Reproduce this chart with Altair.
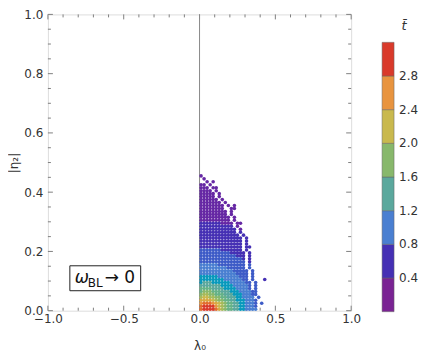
import altair as alt
import pandas as pd

# ---------------- data ----------------
# grid of the scatter cloud: each character is a t-bar level (index * 0.2), '.' = no points
# columns: lambda_0 from 0.00 to 0.46 in steps of 0.02 ; rows: |eta_2| from 0.46 down to 0.00 in steps of 0.01
level_codes = "0123456789ABCDEF"
grid_rows = [
    "2......................",  # 0.455
    ".2.....................",  # 0.445
    "..2.2..................",  # 0.435
    "22.2...................",  # 0.425
    "222.22.................",  # 0.415
    "2222.2.................",  # 0.405
    "22222.2................",  # 0.395
    "22222.2................",  # 0.385
    "222222.2...............",  # 0.375
    "2222222.2..............",  # 0.365
    "22222222.2.2...........",  # 0.355
    "22222222..22...........",  # 0.345
    "222222222.2............",  # 0.335
    "222222222.2............",  # 0.325
    "2222222222.2...........",  # 0.315
    "2222222222.2...........",  # 0.305
    "33333332222.22.........",  # 0.295
    "33333333333.2..........",  # 0.285
    "333333333333.2.........",  # 0.275
    "333333333333.3.........",  # 0.265
    "3333333333333.3........",  # 0.255
    "33333333333333.3.......",  # 0.245
    "33333333333333.3.......",  # 0.235
    "33333333333333.3.......",  # 0.225
    "33333333333333.33......",  # 0.215
    "44444443333333.3.......",  # 0.205
    "444444444433333.3......",  # 0.195
    "444444444444333.3......",  # 0.185
    "444444444444443.3......",  # 0.175
    "444444444444444.3......",  # 0.165
    "555555444444444.4......",  # 0.155
    "555555555444444.4......",  # 0.145
    "5555555555544444.4.....",  # 0.135
    "5555555555554444.4.....",  # 0.125
    "6666665555555444.4.....",  # 0.115
    "6666666655555544.4...3.",  # 0.105
    "67776666665555544.4....",  # 0.095
    "77777776666555554.4....",  # 0.085
    "88887777666655554.4....",  # 0.075
    "8999888777666555544....",  # 0.065
    "9AA9988877766655544....",  # 0.055
    "ABBAA9988777665555.4...",  # 0.045
    "CCCCBA9988776665554....",  # 0.035
    "DEEEDCBA98877665554.4..",  # 0.025
    "EFFFFDBA98877665554....",  # 0.015
    "EFFFFECA98877665555....",  # 0.005
]
grid_x0 = 0.01
grid_dx = 0.02
grid_y_top = 0.455
grid_dy = 0.01

x_labels = [-1.0, -0.5, 0.0, 0.5, 1.0]
x_minor = [-0.9, -0.8, -0.7, -0.6, -0.4, -0.3, -0.2, -0.1, 0.1, 0.2, 0.3, 0.4, 0.6, 0.7, 0.8, 0.9]
y_labels = [0.0, 0.2, 0.4, 0.6, 0.8, 1.0]
y_minor = [0.05, 0.1, 0.15, 0.25, 0.3, 0.35, 0.45, 0.5, 0.55, 0.65, 0.7, 0.75, 0.85, 0.9, 0.95]
zero_line = [0.0]

band_thresholds = [0.4, 0.8, 1.2, 1.6, 2.0, 2.4, 2.8]
band_mids = [0.2, 0.6, 1.0, 1.4, 1.8, 2.2, 2.6, 3.0]
band_colors = ["#7a2393", "#4530b4", "#4a7fd1", "#5ba89d", "#88b86c", "#c9b94e", "#e8943f", "#d93a2b"]

# ---------------- tables ----------------
recs = []
for i, row in enumerate(grid_rows):
    row = (row + "." * 23)[:23]
    for j, ch in enumerate(row):
        if ch == ".":
            continue
        recs.append({
            "v": round(grid_x0 + grid_dx * j, 4),
            "w": round(grid_y_top - grid_dy * i, 4),
            "t": round(level_codes.index(ch) * 0.2, 2),
        })
pts = pd.DataFrame(recs)

W, H = 304, 297
FONT = "DejaVu Sans"
GREY = "#808080"
TXT = "#333333"

xs = alt.Scale(domain=[-1, 1], nice=False, zero=False)
ys = alt.Scale(domain=[0, 1], nice=False, zero=False)

x_axis = alt.Axis(
    values=x_labels, format=".1f", title="λ₀", ticks=False, tickSize=0, domain=False, grid=False,
    labelFlush=False, labelPadding=3, titlePadding=16, labelFontSize=12, titleFontSize=12,
    labelColor=TXT, titleColor=TXT, labelFont=FONT, titleFont=FONT, titleFontWeight="normal")
y_axis = alt.Axis(
    values=y_labels, format=".1f", title="|η₂|", ticks=False, tickSize=0, domain=False, grid=False,
    labelFlush=False, labelPadding=5, titlePadding=3, labelFontSize=12, titleFontSize=12,
    labelColor=TXT, titleColor=TXT, labelFont=FONT, titleFont=FONT, titleFontWeight="normal")

points = alt.Chart(pts).mark_circle(size=13, opacity=1).encode(
    x=alt.X("v:Q", scale=xs, axis=x_axis),
    y=alt.Y("w:Q", scale=ys, axis=y_axis),
    color=alt.Color("t:Q", scale=alt.Scale(type="linear", domain=band_mids, range=band_colors), legend=None),
)

legend_layer = alt.Chart(pd.DataFrame({"t": band_mids})).mark_square(opacity=0).encode(
    x=alt.value(0), y=alt.value(0),
    color=alt.Color("t:Q", scale=alt.Scale(type="threshold", domain=band_thresholds, range=band_colors),
                    legend=alt.Legend(type="gradient", orient="none", legendX=335, legendY=28,
                                      direction="vertical", gradientLength=270, gradientThickness=12,
                                      title=None, format=".1f", labelFontSize=12, labelFont=FONT,
                                      labelColor=TXT, labelOffset=5, gradientStrokeColor="#666",
                                      gradientStrokeWidth=0.5)),
)

def xticks(vals, y0, y1):
    return alt.Chart(pd.DataFrame({"v": vals})).mark_rule(color=GREY, strokeWidth=1).encode(
        x=alt.X("v:Q", scale=xs, axis=x_axis), y=alt.value(y0), y2=alt.value(y1))

def yticks(vals, x0, x1):
    return alt.Chart(pd.DataFrame({"w": vals})).mark_rule(color=GREY, strokeWidth=1).encode(
        y=alt.Y("w:Q", scale=ys, axis=y_axis), x=alt.value(x0), x2=alt.value(x1))

ticks = [
    xticks(x_labels, H, H - 5), xticks(x_minor, H, H - 3),
    xticks(x_labels, 0, 5), xticks(x_minor, 0, 3),
    yticks(y_labels, 0, 5), yticks(y_minor, 0, 3),
    yticks(y_labels, W, W - 5), yticks(y_minor, W, W - 3),
]

vline = alt.Chart(pd.DataFrame({"v": zero_line})).mark_rule(color="#8a8a8a", strokeWidth=1).encode(
    x=alt.X("v:Q", scale=xs, axis=x_axis))

one = pd.DataFrame({"a": [1]})
box = alt.Chart(one).mark_rect(fill="white", stroke="#222", strokeWidth=1).encode(
    x=alt.value(22), x2=alt.value(93), y=alt.value(252), y2=alt.value(277))
omega = alt.Chart(one).mark_text(text="ω", font=FONT, fontSize=17, fontStyle="italic", align="left",
                                 baseline="middle", color="#111").encode(x=alt.value(27), y=alt.value(264))
sub = alt.Chart(one).mark_text(text="BL", font=FONT, fontSize=12, align="left",
                               baseline="middle", color="#111").encode(x=alt.value(40), y=alt.value(269))
arrow = alt.Chart(one).mark_text(text="→ 0", font=FONT, fontSize=17, align="left",
                                 baseline="middle", color="#111").encode(x=alt.value(57), y=alt.value(264))
tbar = alt.Chart(one).mark_text(text="t̄", font=FONT, fontSize=13, fontStyle="italic", align="center",
                                baseline="middle", color=TXT).encode(x=alt.value(357), y=alt.value(12))

chart = alt.layer(
    *ticks, vline, points, legend_layer, box, omega, sub, arrow, tbar
).resolve_scale(color="independent").properties(
    width=W, height=H, padding={"left": -1, "top": 0, "right": 0, "bottom": 0}
).configure_view(stroke=GREY, strokeWidth=1).configure(background="white")

chart.save("out.html", embed_options={"renderer": "svg", "actions": False})
